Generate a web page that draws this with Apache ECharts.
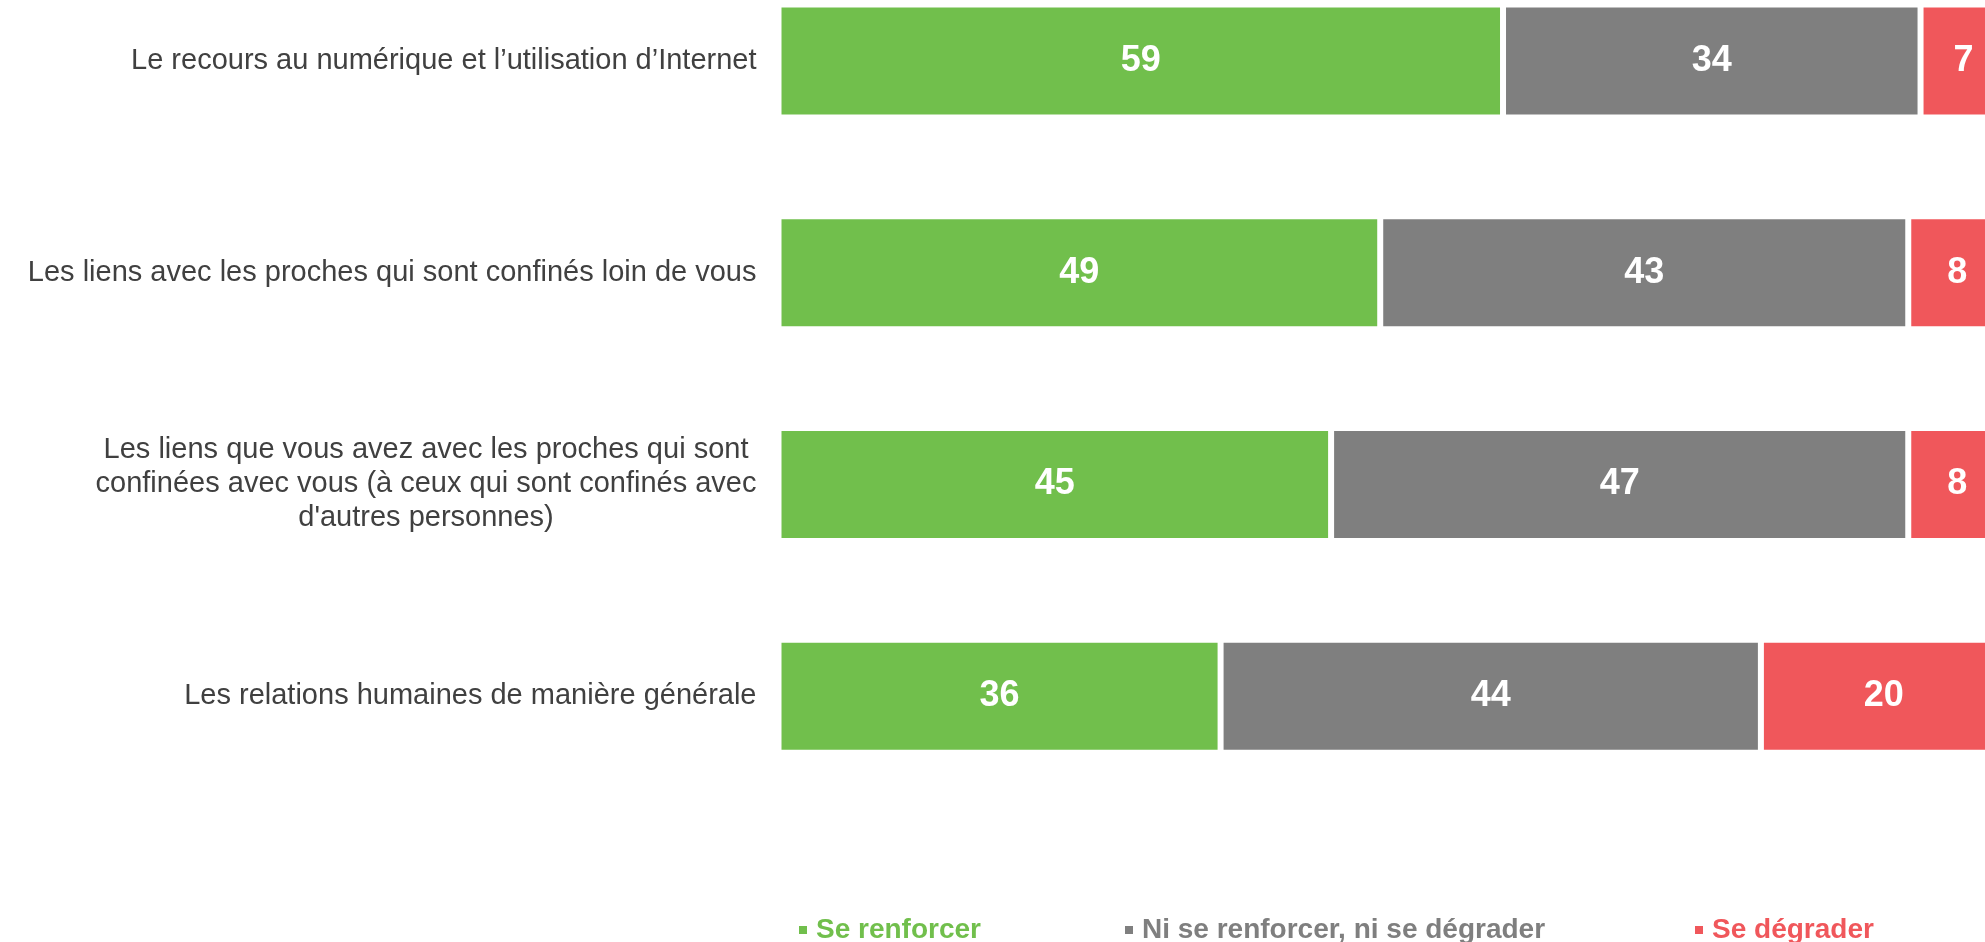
<!DOCTYPE html>
<html>
<head>
<meta charset="utf-8">
<script src="https://cdn.jsdelivr.net/npm/echarts@6/dist/echarts.min.js"></script>
<style>
  html, body { margin: 0; padding: 0; background: #fff; }
  #chart { width: 1985px; height: 942px; }
</style>
</head>
<body>
<div id="chart"></div>
<script>
// categories, top to bottom
const categories = [
  "Le recours au numérique et l’utilisation d’Internet",
  "Les liens avec les proches qui sont confinés loin de vous",
  "Les liens que vous avez avec les proches qui sont\nconfinées avec vous (à ceux qui sont confinés avec\nd'autres personnes)",
  "Les relations humaines de manière générale"
];
const seriesNames = ["Se renforcer", "Ni se renforcer, ni se dégrader", "Se dégrader"];
const renforcer = [59, 49, 45, 36];
const niNi = [34, 43, 47, 44];
const degrader = [7, 8, 8, 20];

const colors = ["#71BF4C", "#7F7F7F", "#F0575B"];
const FONT = "'Liberation Sans', Arial, sans-serif";

const chart = echarts.init(document.getElementById("chart"));

function makeSeries(name, data, color) {
  return {
    name: name,
    type: "bar",
    stack: "total",
    data: data,
    barWidth: 113,
    itemStyle: {
      color: color,
      borderColor: "#fff",
      borderWidth: 3
    },
    label: {
      show: true,
      position: "inside",
      color: "#fff",
      fontFamily: FONT,
      fontWeight: "bold",
      fontSize: 36
    },
    emphasis: { disabled: true }
  };
}

// one legend block per entry, the gaps between them are not equal
const legendLefts = [792, 1118, 1688];
const legends = seriesNames.map((n, i) => ({
  left: legendLefts[i],
  top: 911,
  itemWidth: 10,
  itemHeight: 10,
  icon: "rect",
  selectedMode: false,
  textStyle: {
    fontFamily: FONT,
    fontWeight: "bold",
    fontSize: 28,
    color: colors[i],
    padding: [0, 0, 0, 3]
  },
  data: [n]
}));

const option = {
  animation: false,
  color: colors,
  grid: {
    left: 778.5,
    top: -45,
    width: 1228,
    height: 847,
    outerBoundsMode: "none",
    containLabel: false
  },
  xAxis: {
    type: "value",
    min: 0,
    max: 100,
    show: false
  },
  yAxis: {
    type: "category",
    data: categories,
    inverse: true,
    axisLine: { show: false },
    axisTick: { show: false },
    splitLine: { show: false },
    axisLabel: {
      margin: 22,
      color: "#404040",
      fontFamily: FONT,
      fontSize: 29,
      lineHeight: 34,
      formatter: function (value) {
        // centre every line of a wrapped label inside its block
        return value.split("\n").map(l => "{c|" + l + "}").join("\n");
      },
      rich: {
        c: {
          align: "center",
          color: "#404040",
          fontFamily: FONT,
          fontSize: 29,
          lineHeight: 34
        }
      }
    }
  },
  legend: legends,
  series: [
    makeSeries(seriesNames[0], renforcer, colors[0]),
    makeSeries(seriesNames[1], niNi, colors[1]),
    makeSeries(seriesNames[2], degrader, colors[2])
  ]
};

chart.setOption(option);
</script>
</body>
</html>
